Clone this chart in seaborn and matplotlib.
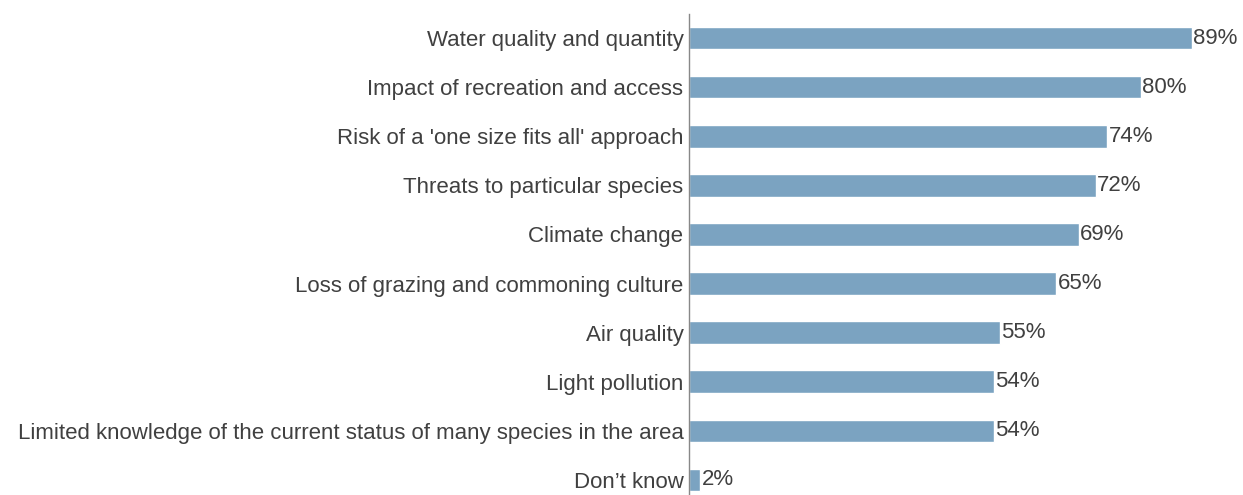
import matplotlib
matplotlib.use("Agg")
import matplotlib.pyplot as plt
import seaborn as sns
import pandas as pd

categories = ["Water quality and quantity",
              "Impact of recreation and access",
              "Risk of a 'one size fits all' approach",
              "Threats to particular species",
              "Climate change",
              "Loss of grazing and commoning culture",
              "Air quality",
              "Light pollution",
              "Limited knowledge of the current status of many species in the area",
              "Don\u2019t know"]
values = [89, 80, 74, 72, 69, 65, 55, 54, 54, 2]

df = pd.DataFrame({"issue": categories, "pct": values})

sns.set_style("white")
plt.rcParams["font.family"] = ["Liberation Sans", "DejaVu Sans"]

fig = plt.figure(figsize=(12.43, 4.95), dpi=100)
ax = fig.add_axes([0.5543, 0.0, 0.4457, 0.9727])

sns.barplot(data=df, x="pct", y="issue", color="#7BA3C1", saturation=1,
            width=0.46, ax=ax, orient="h")

for i, v in enumerate(values):
    ax.text(v + 0.2, i, f"{v}%", va="center", ha="left", fontsize=16, color="#404040")

ax.set_xlim(0, 98)
ax.set_ylim(9.306, -0.5)
ax.set_xlabel("")
ax.set_ylabel("")
ax.set_xticks([])
ax.tick_params(axis="y", length=0, pad=4, labelsize=16, labelcolor="#404040")
for s in ["top", "right", "bottom"]:
    ax.spines[s].set_visible(False)
ax.spines["left"].set_color("#888888")
ax.spines["left"].set_linewidth(1)

fig.savefig("out.png", dpi=100)
